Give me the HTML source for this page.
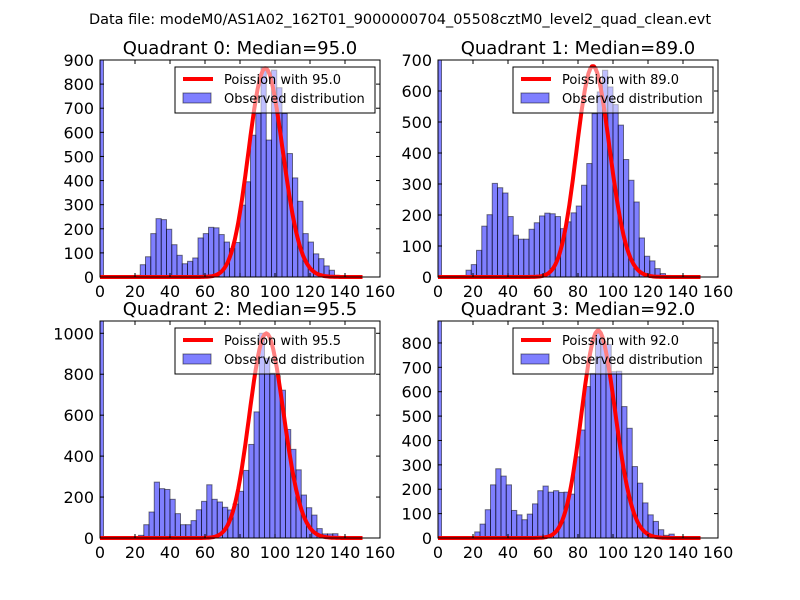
<!DOCTYPE html>
<html><head><meta charset="utf-8"><style>
body{margin:0;background:#fff}
svg{display:block;font-family:"DejaVu Sans","Liberation Sans",sans-serif}
</style></head><body>
<svg id="fig" width="800" height="600" viewBox="0 0 800 600">
<rect width="800" height="600" fill="#fff"/>
<text x="400" y="24" text-anchor="middle" font-size="14.5">Data file: modeM0/AS1A02_162T01_9000000704_05508cztM0_level2_quad_clean.evt</text>
</svg>
<script>
const medians=[95.0,89.0,95.5,92.0];
const ymaxs=[900,700,1060,890];
const yticks0=[0,100,200,300,400,500,600,700,800,900];
const yticks1=[0,100,200,300,400,500,600,700];
const yticks2=[0,200,400,600,800,1000];
const yticks3=[0,100,200,300,400,500,600,700,800];
const xticks=[0,20,40,60,80,100,120,140,160];
const peaks=[865,680,1000,850];
const binWidth=3;
const starts=[20,10,22,21];
const zeroBins=[900,700,1060,890];
const counts0=[7,51,84,180,242,238,198,134,90,55,65,79,162,180,206,204,176,145,118,143,298,395,588,678,868,568,858,785,678,512,411,314,180,145,96,76,46,28,7];
const counts1=[2,5,22,40,86,164,201,302,288,271,195,135,122,122,154,175,197,206,204,195,156,178,207,229,296,366,527,597,667,613,556,490,379,312,242,126,67,52,27,11,5,3,2];
const counts2=[13,65,127,273,241,237,189,119,65,65,85,138,179,260,189,176,150,137,166,228,330,457,616,1000,878,805,793,722,530,433,333,210,148,112,46,20,20,21];
const counts3=[25,57,116,218,284,254,218,113,95,75,98,140,194,213,188,194,187,188,180,333,443,621,675,839,805,794,682,684,539,450,293,225,144,95,68,34,11,16];
const allCounts=[counts0,counts1,counts2,counts3];
const allTicks=[yticks0,yticks1,yticks2,yticks3];
const NS='http://www.w3.org/2000/svg';
const svg=document.getElementById('fig');
function mk(tag,attrs,parent){const e=document.createElementNS(NS,tag);for(const k in attrs)e.setAttribute(k,attrs[k]);(parent||svg).appendChild(e);return e;}
const boxes=[[100,60],[438,60],[100,321],[438,321]];
const W=280,H=217;
for(let q=0;q<4;q++){
  const [x0,y0]=boxes[q];
  const g=mk('g',{});
  
  
  const X=v=>x0+v/160*W;
  const Y=v=>y0+H-Math.min(v,ymaxs[q])/ymaxs[q]*H;
  const t=mk('text',{x:x0+W/2,y:y0-6,'text-anchor':'middle','font-size':18},g);
  t.textContent='Quadrant '+q+': Median='+medians[q].toFixed(1);
  
  
  // bars
  const zb=mk('rect',{x:X(0),y:Y(zeroBins[q]),width:X(2)-X(0),height:Y(0)-Y(zeroBins[q]),fill:'rgba(0,0,255,0.5)',stroke:'rgba(0,0,0,0.5)','stroke-width':1},g);
  
  
  allCounts[q].forEach((c,i)=>{
    const a=starts[q]+i*binWidth;
    const r=mk('rect',{x:X(a),y:Y(c),width:X(a+binWidth)-X(a),height:Y(0)-Y(c),fill:'rgba(0,0,255,0.5)',stroke:'rgba(0,0,0,0.5)','stroke-width':1},g);
    
    
  });
  // poisson curve
  const lam=medians[q];let pts=[];
  const lg=k=>{let s=0;for(let i=2;i<=k;i++)s+=Math.log(i);return s;};
  const mode=Math.floor(lam);const lpm=mode*Math.log(lam)-lam-lg(mode);
  for(let k=0;k<=150;k++){const lp=k*Math.log(lam)-lam-lg(k);pts.push(X(k).toFixed(1)+','+Y(peaks[q]*Math.exp(lp-lpm)).toFixed(1));}
  const pl=mk('polyline',{points:pts.join(' '),fill:'none',stroke:'#ff0000','stroke-width':4,'stroke-linejoin':'round'},g);
  
  
  // frame
  mk('rect',{x:x0,y:y0,width:W,height:H,fill:'none',stroke:'#000','stroke-width':1},g);
  xticks.forEach(v=>{
    mk('line',{x1:X(v),x2:X(v),y1:y0+H,y2:y0+H-4,stroke:'#000'},g);
    mk('line',{x1:X(v),x2:X(v),y1:y0,y2:y0+4,stroke:'#000'},g);
    const tl=mk('text',{x:X(v),y:y0+H+20,'text-anchor':'middle','font-size':16},g);
    tl.textContent=v;
    
    
  });
  allTicks[q].forEach(v=>{
    mk('line',{x1:x0,x2:x0+4,y1:Y(v),y2:Y(v),stroke:'#000'},g);
    mk('line',{x1:x0+W,x2:x0+W-4,y1:Y(v),y2:Y(v),stroke:'#000'},g);
    const tl=mk('text',{x:x0-6,y:Y(v)+6,'text-anchor':'end','font-size':16},g);
    tl.textContent=v;
    
    
  });
  // legend
  const lgd=mk('g',{},g);
  
  
  mk('rect',{x:x0+75,y:y0+7,width:200,height:46,fill:'rgba(255,255,255,0.5)',stroke:'#000','stroke-width':1},lgd);
  mk('line',{x1:x0+83,x2:x0+113,y1:y0+19,y2:y0+19,stroke:'#ff0000','stroke-width':4},lgd);
  const l1=mk('text',{x:x0+124,y:y0+24,'font-size':13},lgd);
  l1.textContent='Poission with '+medians[q].toFixed(1);
  
  
  mk('rect',{x:x0+83,y:y0+33,width:28,height:10,fill:'rgba(0,0,255,0.5)',stroke:'rgba(0,0,0,0.5)'},lgd);
  const l2=mk('text',{x:x0+124,y:y0+43,'font-size':13},lgd);
  l2.textContent='Observed distribution';
  
  
}
</script>
</body></html>
